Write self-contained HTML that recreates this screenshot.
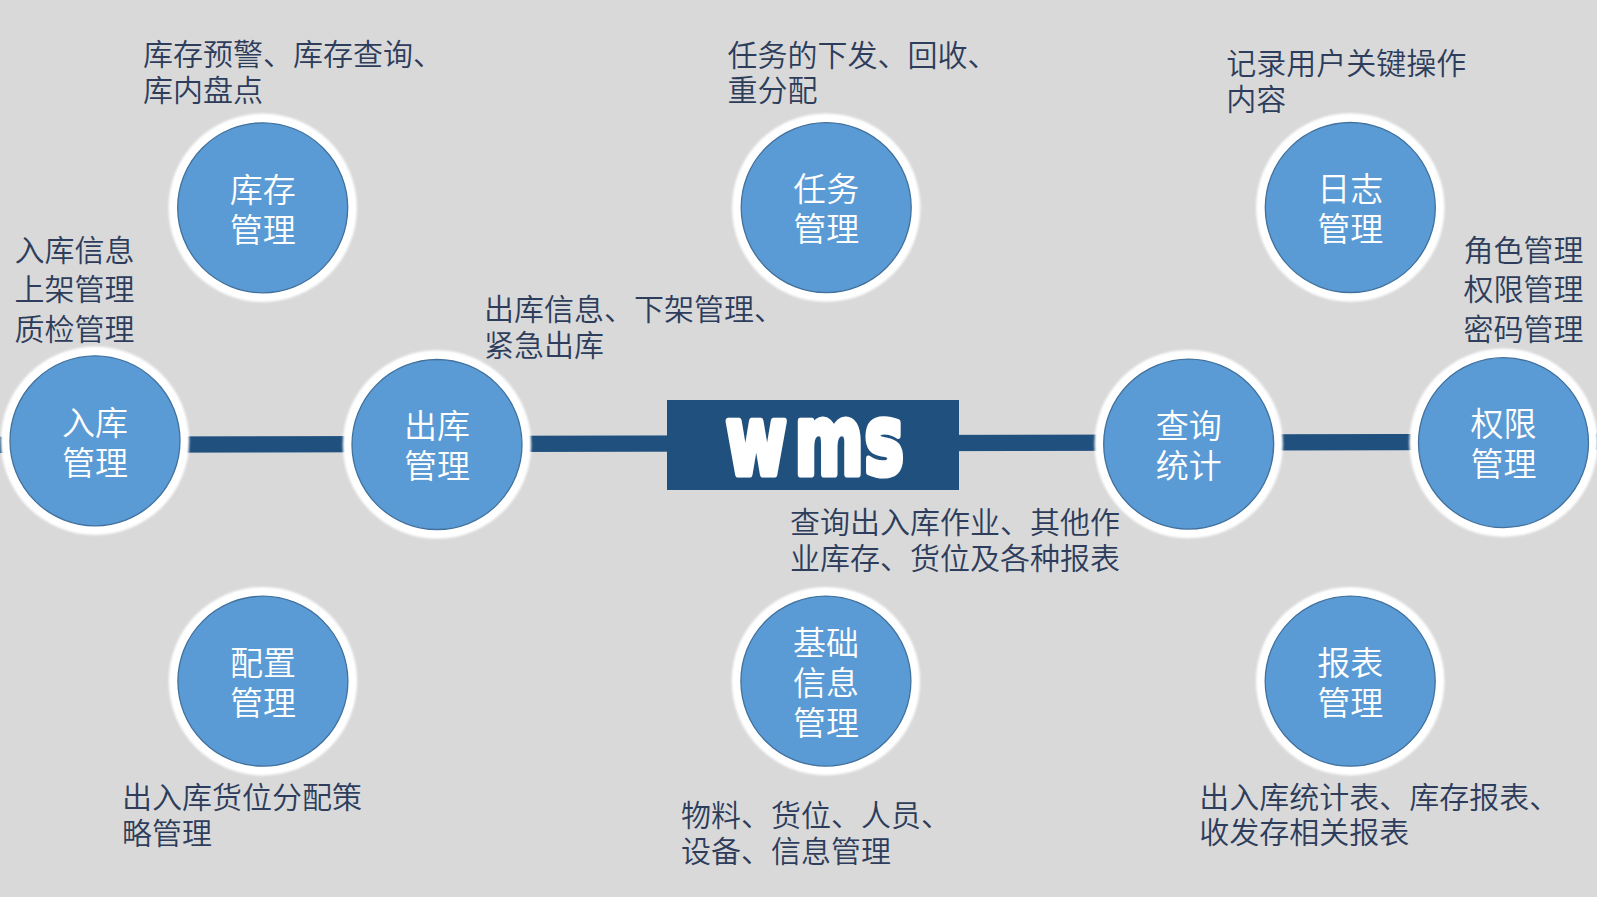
<!DOCTYPE html>
<html lang="zh-CN">
<head>
<meta charset="utf-8">
<title>WMS</title>
<style>
html,body{margin:0;padding:0;background:#d9d9d9;}
body{width:1597px;height:897px;overflow:hidden;}
svg{display:block;}
.lbl{font-family:"Liberation Sans","Noto Sans CJK SC",sans-serif;font-weight:350;font-size:30px;fill:#2d3d5b;}
.ct{font-family:"Liberation Sans","Noto Sans CJK SC",sans-serif;font-weight:350;font-size:33px;fill:#fff;text-anchor:middle;}
.wms{font-family:"DejaVu Sans","Liberation Sans",sans-serif;font-weight:700;font-size:66px;fill:#fff;stroke:#fff;stroke-width:6px;stroke-linejoin:round;}
</style>
</head>
<body>
<svg width="1597" height="897" viewBox="0 0 1597 897">
<defs><filter id="glow" x="-20%" y="-20%" width="140%" height="140%"><feGaussianBlur stdDeviation="1"/></filter></defs>
<rect width="1597" height="897" fill="#d9d9d9"/>
<line x1="-2" y1="444.83" x2="1599" y2="441.7" stroke="#20507d" stroke-width="16.4"/>
<rect x="667" y="400" width="292" height="90" fill="#20507d"/>
<text class="wms" transform="translate(725.8,473.9) scale(1,1.45)" dx="0 8 1" vector-effect="non-scaling-stroke">wms</text>
<circle cx="262.7" cy="207.8" r="94.2" fill="#fff" filter="url(#glow)"/>
<circle cx="262.7" cy="207.8" r="85" fill="#5b9bd5" stroke="#41719c" stroke-width="1.3"/>
<text class="ct" x="262.7" y="201.5">库存</text>
<text class="ct" x="262.7" y="241.5">管理</text>
<circle cx="826.2" cy="207.6" r="94.2" fill="#fff" filter="url(#glow)"/>
<circle cx="826.2" cy="207.6" r="85" fill="#5b9bd5" stroke="#41719c" stroke-width="1.3"/>
<text class="ct" x="826.2" y="201.3">任务</text>
<text class="ct" x="826.2" y="241.3">管理</text>
<circle cx="1350.3" cy="207.5" r="94.2" fill="#fff" filter="url(#glow)"/>
<circle cx="1350.3" cy="207.5" r="85" fill="#5b9bd5" stroke="#41719c" stroke-width="1.3"/>
<text class="ct" x="1350.3" y="201.2">日志</text>
<text class="ct" x="1350.3" y="241.2">管理</text>
<circle cx="95" cy="440.8" r="94.2" fill="#fff" filter="url(#glow)"/>
<circle cx="95" cy="440.8" r="85" fill="#5b9bd5" stroke="#41719c" stroke-width="1.3"/>
<text class="ct" x="95" y="434.5">入库</text>
<text class="ct" x="95" y="474.5">管理</text>
<circle cx="437" cy="444.5" r="94.2" fill="#fff" filter="url(#glow)"/>
<circle cx="437" cy="444.5" r="85" fill="#5b9bd5" stroke="#41719c" stroke-width="1.3"/>
<text class="ct" x="437" y="438.2">出库</text>
<text class="ct" x="437" y="478.2">管理</text>
<circle cx="1188.7" cy="444.1" r="94.2" fill="#fff" filter="url(#glow)"/>
<circle cx="1188.7" cy="444.1" r="85" fill="#5b9bd5" stroke="#41719c" stroke-width="1.3"/>
<text class="ct" x="1188.7" y="437.8">查询</text>
<text class="ct" x="1188.7" y="477.8">统计</text>
<circle cx="1503.5" cy="442.7" r="94.2" fill="#fff" filter="url(#glow)"/>
<circle cx="1503.5" cy="442.7" r="85" fill="#5b9bd5" stroke="#41719c" stroke-width="1.3"/>
<text class="ct" x="1503.5" y="436.4">权限</text>
<text class="ct" x="1503.5" y="476.4">管理</text>
<circle cx="262.9" cy="681.2" r="94.2" fill="#fff" filter="url(#glow)"/>
<circle cx="262.9" cy="681.2" r="85" fill="#5b9bd5" stroke="#41719c" stroke-width="1.3"/>
<text class="ct" x="262.9" y="674.9">配置</text>
<text class="ct" x="262.9" y="714.9">管理</text>
<circle cx="825.9" cy="681.1" r="94.2" fill="#fff" filter="url(#glow)"/>
<circle cx="825.9" cy="681.1" r="85" fill="#5b9bd5" stroke="#41719c" stroke-width="1.3"/>
<text class="ct" x="825.9" y="654.8">基础</text>
<text class="ct" x="825.9" y="694.8">信息</text>
<text class="ct" x="825.9" y="734.8">管理</text>
<circle cx="1350.2" cy="681.2" r="94.2" fill="#fff" filter="url(#glow)"/>
<circle cx="1350.2" cy="681.2" r="85" fill="#5b9bd5" stroke="#41719c" stroke-width="1.3"/>
<text class="ct" x="1350.2" y="674.9">报表</text>
<text class="ct" x="1350.2" y="714.9">管理</text>
<text class="lbl" x="143" y="65">库存预警、库存查询、</text>
<text class="lbl" x="143" y="100.5">库内盘点</text>
<text class="lbl" x="727.5" y="65.5">任务的下发、回收、</text>
<text class="lbl" x="727.5" y="101">重分配</text>
<text class="lbl" x="1226.2" y="74.3">记录用户关键操作</text>
<text class="lbl" x="1226.2" y="110.3">内容</text>
<text class="lbl" x="14.5" y="261">入库信息</text>
<text class="lbl" x="14.5" y="299.5">上架管理</text>
<text class="lbl" x="14.5" y="339.5">质检管理</text>
<text class="lbl" x="484" y="320">出库信息、下架管理、</text>
<text class="lbl" x="484" y="356">紧急出库</text>
<text class="lbl" x="1463.5" y="261">角色管理</text>
<text class="lbl" x="1463.5" y="299.5">权限管理</text>
<text class="lbl" x="1463.5" y="339.5">密码管理</text>
<text class="lbl" x="790" y="533.3">查询出入库作业、其他作</text>
<text class="lbl" x="790" y="569.3">业库存、货位及各种报表</text>
<text class="lbl" x="122" y="808">出入库货位分配策</text>
<text class="lbl" x="122" y="844">略管理</text>
<text class="lbl" x="681" y="826">物料、货位、人员、</text>
<text class="lbl" x="681" y="862">设备、信息管理</text>
<text class="lbl" x="1199.3" y="808">出入库统计表、库存报表、</text>
<text class="lbl" x="1199.3" y="843.2">收发存相关报表</text>
</svg>
</body>
</html>
